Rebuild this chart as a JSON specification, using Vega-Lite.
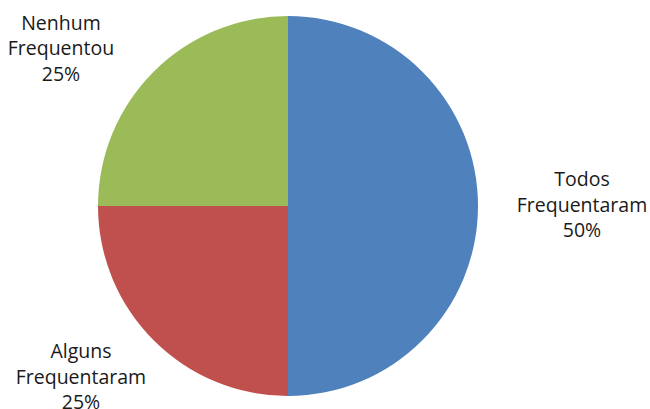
{
  "$schema": "https://vega.github.io/schema/vega-lite/v6.json",
  "width": 576,
  "height": 412,
  "autosize": {"type": "none"},
  "padding": {"left": 0, "top": 0, "right": 74, "bottom": 0},
  "background": "white",
  "data": {
    "values": [
      {"cat": "Todos Frequentaram", "pct": 50, "ordem": 1},
      {"cat": "Alguns Frequentaram", "pct": 25, "ordem": 2},
      {"cat": "Nenhum Frequentou", "pct": 25, "ordem": 3}
    ]
  },
  "transform": [
    {"calculate": "datum.cat + ' ' + datum.pct + '%'", "as": "rotulo"}
  ],
  "encoding": {
    "theta": {"field": "pct", "type": "quantitative", "stack": true},
    "order": {"field": "ordem", "type": "quantitative"}
  },
  "layer": [
    {
      "mark": {"type": "arc", "outerRadius": 190},
      "encoding": {
        "color": {
          "field": "cat",
          "type": "nominal",
          "scale": {
            "domain": ["Todos Frequentaram", "Alguns Frequentaram", "Nenhum Frequentou"],
            "range": ["#4F81BD", "#C0504D", "#9BBB59"]
          },
          "legend": null
        }
      }
    },
    {
      "mark": {
        "type": "text",
        "radius": 290,
        "font": "Open Sans",
        "fontSize": 19.5,
        "lineHeight": 25.5,
        "lineBreak": " ",
        "align": "center",
        "baseline": "alphabetic",
        "color": "#1a1a1a",
        "dx": {"expr": "datum.ordem == 1 ? 4 : datum.ordem == 2 ? -2 : -22"},
        "dy": {"expr": "datum.ordem == 1 ? -20 : datum.ordem == 2 ? -53 : 29"}
      },
      "encoding": {
        "text": {"field": "rotulo", "type": "nominal"}
      }
    }
  ],
  "config": {"view": {"stroke": null}}
}
